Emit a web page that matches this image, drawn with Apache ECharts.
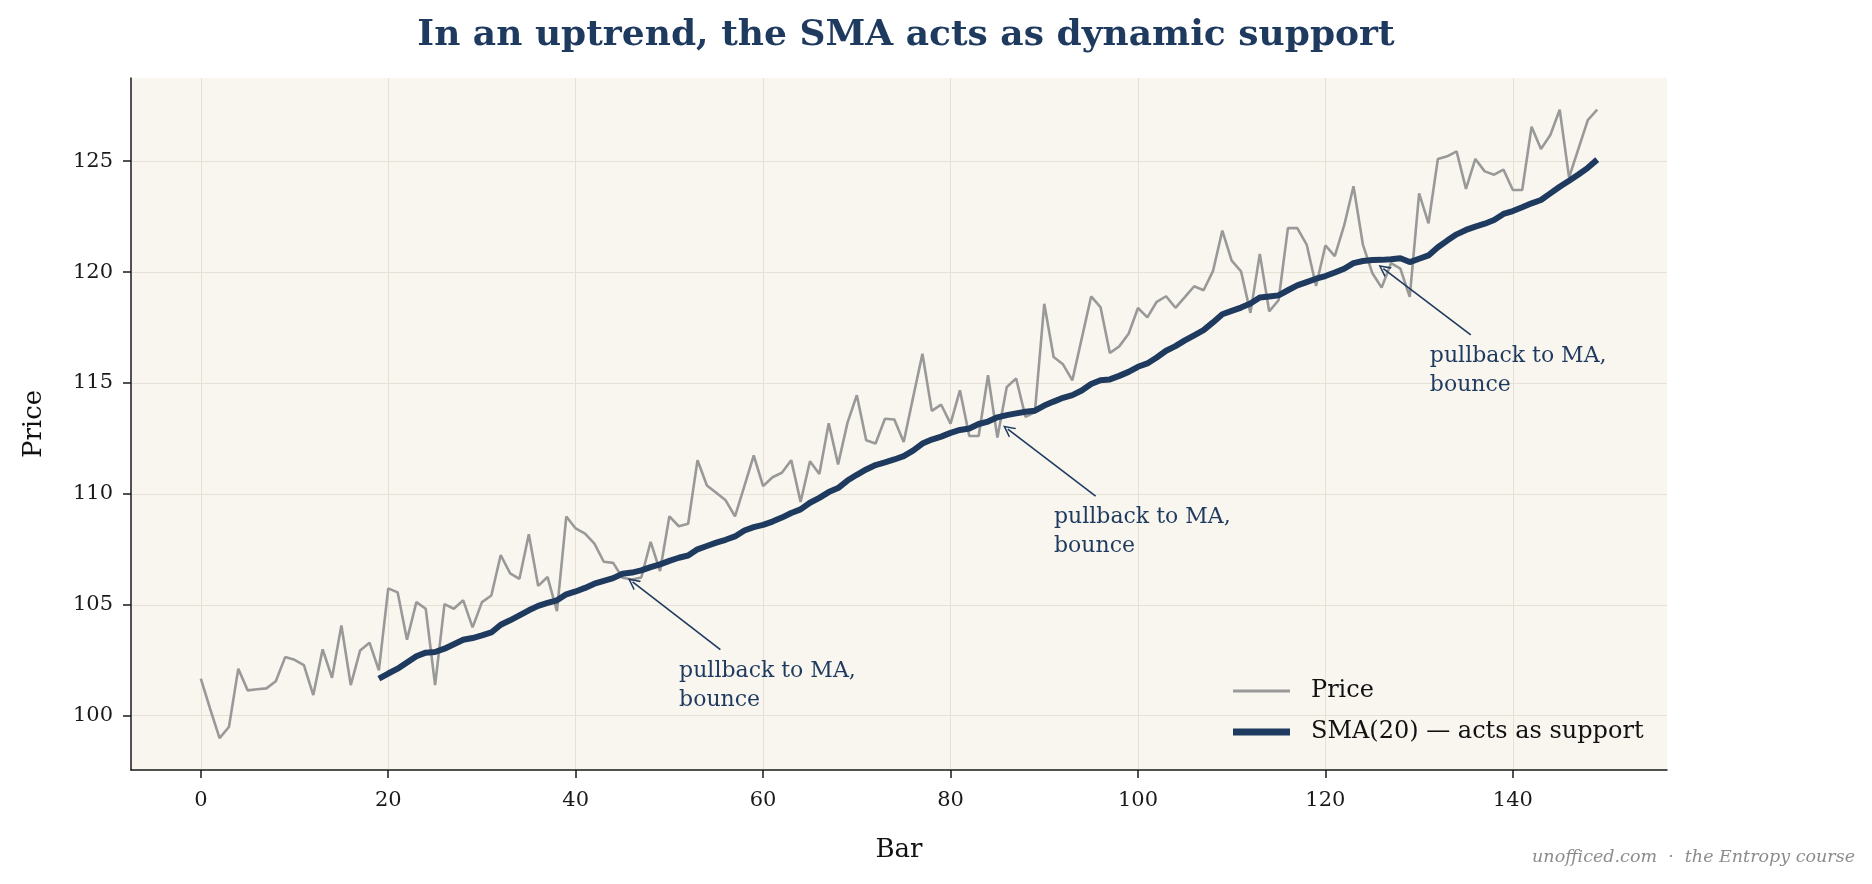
<!DOCTYPE html>
<html>
<head>
<meta charset="utf-8">
<script src="https://cdn.jsdelivr.net/npm/echarts@6/dist/echarts.min.js"></script>
<style>
  html, body { margin: 0; padding: 0; background: #ffffff; }
  #chart { width: 1872px; height: 884px; }
</style>
</head>
<body>
<div id="chart"></div>
<script>
// price per bar (bar index = array position)
const price = [
  101.67, 100.30, 98.99, 99.49, 102.12, 101.14, 101.19, 101.23, 101.55, 102.64,
  102.52, 102.28, 100.93, 102.99, 101.71, 104.07, 101.38, 102.94, 103.29, 102.04,
  105.74, 105.56, 103.42, 105.12, 104.82, 101.38, 105.03, 104.82, 105.20, 103.98,
  105.12, 105.42, 107.24, 106.42, 106.17, 108.18, 105.85, 106.25, 104.71, 108.98,
  108.44, 108.21, 107.76, 106.94, 106.89, 106.22, 106.14, 106.23, 107.84, 106.52,
  108.99, 108.54, 108.65, 111.52, 110.38, 110.05, 109.71, 108.99, 110.35, 111.73,
  110.35, 110.75, 110.95, 111.52, 109.64, 111.47, 110.90, 113.18, 111.33, 113.20,
  114.45, 112.42, 112.27, 113.39, 113.35, 112.34, 114.34, 116.32, 113.74, 114.02,
  113.17, 114.67, 112.61, 112.61, 115.35, 112.54, 114.82, 115.20, 113.47, 113.69,
  118.57, 116.17, 115.84, 115.12, 117.01, 118.90, 118.42, 116.35, 116.65, 117.22,
  118.38, 117.96, 118.66, 118.91, 118.39, 118.87, 119.36, 119.18, 120.04, 121.87,
  120.52, 120.03, 118.16, 120.82, 118.23, 118.73, 121.98, 121.98, 121.24, 119.37,
  121.20, 120.72, 122.10, 123.87, 121.24, 119.96, 119.30, 120.40, 120.15, 118.88,
  123.55, 122.20, 125.10, 125.22, 125.44, 123.75, 125.10, 124.54, 124.39, 124.62,
  123.70, 123.70, 126.55, 125.55, 126.18, 127.32, 124.27, 125.56, 126.85, 127.32
];

// SMA(20), starts at bar 19
const smaStart = 19;
const sma = [
  101.67, 101.90, 102.12, 102.40, 102.68, 102.84, 102.87, 103.02, 103.22, 103.42,
  103.50, 103.62, 103.75, 104.10, 104.30, 104.52, 104.75, 104.95, 105.08, 105.20,
  105.47, 105.60, 105.76, 105.95, 106.08, 106.20, 106.40, 106.45, 106.55, 106.70,
  106.82, 106.98, 107.12, 107.22, 107.50, 107.65, 107.80, 107.93, 108.08, 108.35,
  108.50, 108.60, 108.75, 108.93, 109.14, 109.30, 109.60, 109.82, 110.08, 110.26,
  110.60, 110.86, 111.10, 111.30, 111.42, 111.55, 111.70, 111.95, 112.27, 112.45,
  112.58, 112.75, 112.88, 112.95, 113.15, 113.26, 113.45, 113.55, 113.63, 113.70,
  113.75, 113.98, 114.16, 114.33, 114.45, 114.66, 114.95, 115.12, 115.16, 115.32,
  115.50, 115.73, 115.88, 116.15, 116.45, 116.66, 116.92, 117.15, 117.38, 117.73,
  118.10, 118.25, 118.40, 118.58, 118.85, 118.90, 118.95, 119.18, 119.40, 119.55,
  119.70, 119.82, 119.98, 120.15, 120.40, 120.50, 120.54, 120.55, 120.58, 120.62,
  120.45, 120.60, 120.75, 121.12, 121.42, 121.70, 121.90, 122.05, 122.18, 122.35,
  122.62, 122.75, 122.92, 123.10, 123.25, 123.55, 123.85, 124.12, 124.40, 124.70,
  125.07
];

const xTicks = [0, 20, 40, 60, 80, 100, 120, 140];
const yTicks = [100, 105, 110, 115, 120, 125];

// annotation arrows: [tail, head] in data coords, text anchor (top-left)
const arrowTail = [[55.44, 102.98], [95.48, 109.90], [135.51, 117.17]];
const arrowHead = [[46.07, 106.03], [86.11, 112.92], [126.18, 120.16]];
const noteAt = [[51.09, 102.62], [91.09, 109.57], [131.2, 116.82]];
const noteText = 'pullback to MA,\nbounce';

const NAVY = '#1f3a5f';
const GREY = '#999999';
const FONT = 'DejaVu Serif';
const chevron = 'path://M0,10 L5,0 L10,10 L8.6,10 L5,2.8 L1.4,10 Z';

const chart = echarts.init(document.getElementById('chart'));

chart.setOption({
    animation: false,
    backgroundColor: '#ffffff',
    title: {
        text: 'In an uptrend, the SMA acts as dynamic support',
        left: 901,
        top: 13,
        textAlign: 'center',
        textStyle: {
            color: NAVY,
            fontFamily: FONT,
            fontWeight: 'bold',
            fontSize: 36
        }
    },
    grid: {
        left: 131,
        right: 205,
        top: 78,
        bottom: 114,
        show: true,
        backgroundColor: '#f9f6ef',
        borderWidth: 0
    },
    legend: {
        orient: 'vertical',
        left: 1233,
        top: 677,
        padding: 0,
        itemWidth: 57,
        itemHeight: 14,
        itemGap: 13,
        data: [
            { name: 'Price', icon: 'path://M0,0 L57,0 L57,3 L0,3 Z', itemStyle: { color: GREY } },
            { name: 'SMA(20) — acts as support', icon: 'path://M0,0 L57,0 L57,7 L0,7 Z', itemStyle: { color: NAVY } }
        ],
        textStyle: {
            fontFamily: FONT,
            fontSize: 24,
            color: '#111',
            lineHeight: 28,
            padding: [0, 0, 0, 16]
        }
    },
    xAxis: {
        type: 'value',
        min: -7.45,
        max: 156.45,
        name: 'Bar',
        nameLocation: 'middle',
        nameGap: 67,
        nameTextStyle: { fontFamily: FONT, fontSize: 26, color: '#111' },
        axisLine: { show: true, onZero: false, lineStyle: { color: '#1a1a1a', width: 1.5 } },
        axisTick: { show: true, length: 8, customValues: xTicks, lineStyle: { color: '#1a1a1a', width: 1.5 } },
        axisLabel: { customValues: xTicks, fontFamily: FONT, fontSize: 21, color: '#1a1a1a', margin: 20 },
        splitLine: { show: true, lineStyle: { color: '#e6e1d4', width: 1 } }
    },
    yAxis: {
        type: 'value',
        min: 97.55,
        max: 128.75,
        name: 'Price',
        nameLocation: 'middle',
        nameGap: 84,
        nameTextStyle: { fontFamily: FONT, fontSize: 26, color: '#111' },
        axisLine: { show: true, onZero: false, lineStyle: { color: '#1a1a1a', width: 1.5 } },
        axisTick: { show: true, length: 8, customValues: yTicks, lineStyle: { color: '#1a1a1a', width: 1.5 } },
        axisLabel: { customValues: yTicks, fontFamily: FONT, fontSize: 21, color: '#1a1a1a', margin: 18 },
        splitLine: { show: true, lineStyle: { color: '#e6e1d4', width: 1 } }
    },
    series: [
        {
            name: 'Price',
            type: 'line',
            showSymbol: false,
            symbol: 'none',
            data: price.map((v, i) => [i, v]),
            lineStyle: { color: GREY, width: 2.6 },
            itemStyle: { color: GREY },
            z: 2
        },
        {
            name: 'SMA(20) — acts as support',
            type: 'line',
            showSymbol: false,
            symbol: 'none',
            data: sma.map((v, i) => [i + smaStart, v]),
            lineStyle: { color: NAVY, width: 6 },
            itemStyle: { color: NAVY },
            z: 3,
            markLine: {
                silent: true,
                symbol: ['none', chevron],
                symbolSize: 12,
                label: { show: false },
                lineStyle: { color: NAVY, width: 1.6, type: 'solid' },
                data: arrowTail.map((t, i) => [
                    { coord: t },
                    { coord: arrowHead[i] }
                ])
            },
            markPoint: {
                silent: true,
                symbol: 'rect',
                symbolSize: 1,
                itemStyle: { color: 'rgba(0,0,0,0)' },
                label: {
                    show: true,
                    position: [0, 0],
                    align: 'left',
                    verticalAlign: 'top',
                    formatter: noteText,
                    fontFamily: FONT,
                    fontSize: 22,
                    lineHeight: 29,
                    color: NAVY
                },
                data: noteAt.map(p => ({ coord: p }))
            }
        }
    ],
    graphic: [
        {
            type: 'text',
            right: 17,
            top: 848,
            style: {
                text: 'unofficed.com  ·  the Entropy course',
                font: 'italic 17.5px "DejaVu Serif"',
                fill: '#8c8c8c'
            }
        }
    ]
});
</script>
</body>
</html>
